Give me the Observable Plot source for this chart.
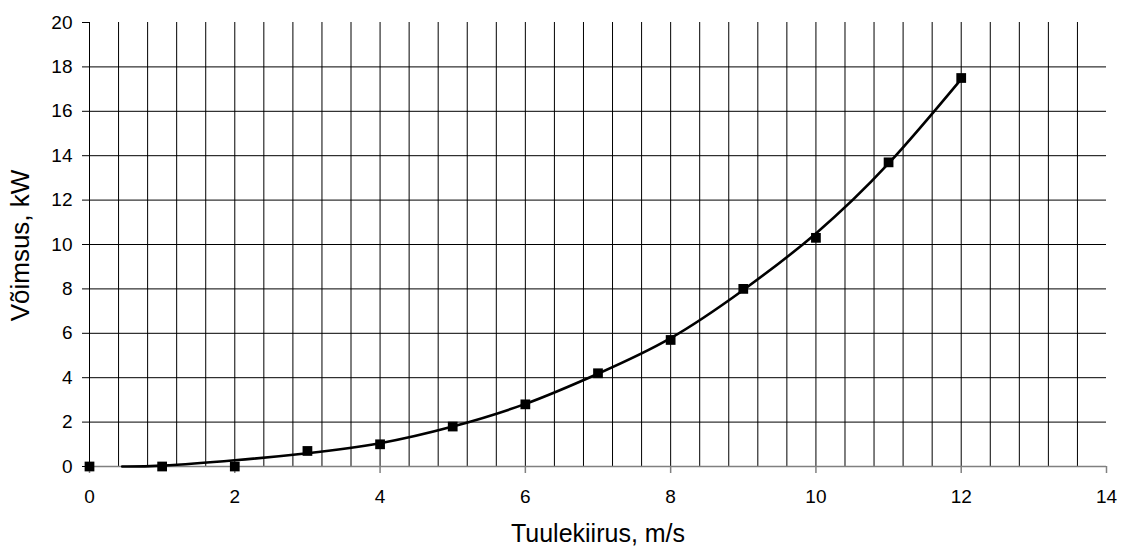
<!DOCTYPE html>
<html>
<head>
<meta charset="utf-8">
<script src="https://cdn.jsdelivr.net/npm/d3@7"></script>
<script src="https://cdn.jsdelivr.net/npm/@observablehq/plot@0.6"></script>
<style>
  html, body { margin: 0; padding: 0; background: #fff; }
  #chart svg { display: block; }
</style>
</head>
<body>
<div id="chart"></div>
<script>
// Measured points (wind speed m/s, power kW)
const speed = [0, 1, 2, 3, 4, 5, 6, 7, 8, 9, 10, 11, 12];
const power = [0, 0, 0, 0.7, 1.0, 1.8, 2.8, 4.2, 5.7, 8.0, 10.3, 13.7, 17.5];

// Trend line
const trendX = [0.45, 1, 2, 3, 4, 5, 6, 7, 8, 9, 10, 11, 12];
const trendY = [0, 0.04, 0.28, 0.6, 1.05, 1.8, 2.82, 4.18, 5.78, 7.95, 10.5, 13.65, 17.45];

// Axis ticks and grid
const xTicks = [0, 2, 4, 6, 8, 10, 12, 14];
const yTicks = [0, 2, 4, 6, 8, 10, 12, 14, 16, 18, 20];
const xGrid = d3.range(1, 35).map(i => +(i * 0.4).toFixed(1));
const yGrid = [2, 4, 6, 8, 10, 12, 14, 16, 18];

const xTitle = "Tuulekiirus, m/s";
const yTitle = "Võimsus, kW";

const points = speed.map((s, i) => ({s, p: power[i]}));
const trend = trendX.map((x, i) => ({x, y: trendY[i]}));

const chart = Plot.plot({
  width: 1123,
  height: 548,
  marginLeft: 89,
  marginRight: 17,
  marginTop: 22,
  marginBottom: 82,
  style: {fontFamily: "'Liberation Sans', Arial, sans-serif", background: "#fff", color: "#000"},
  x: {domain: [0, 14]},
  y: {domain: [0, 20]},
  marks: [
    Plot.ruleY(yGrid, {stroke: "#000", strokeWidth: 1}),
    Plot.ruleX(xGrid, {y1: 0, y2: 20, stroke: "#000", strokeWidth: 1}),
    Plot.axisX(xTicks, {tickSize: 7, tickPadding: 16, fontSize: 19, label: null, stroke: "#808080", strokeWidth: 1.5}),
    Plot.axisY(yTicks, {tickSize: 7, tickPadding: 10, fontSize: 19, label: null, stroke: "#000", strokeWidth: 1}),
    Plot.ruleY([0], {stroke: "#808080", strokeWidth: 1.5}),
    Plot.ruleX([0], {y1: 0, y2: 20, stroke: "#000", strokeWidth: 1}),
    Plot.line(trend, {x: "x", y: "y", curve: "natural", stroke: "#000", strokeWidth: 2.6}),
    Plot.dot(points, {x: "s", y: "p", symbol: "square", r: 5.5, fill: "#000", stroke: "none"}),
    Plot.text([xTitle], {frameAnchor: "bottom", dy: 67, fontSize: 25, fill: "#000", lineAnchor: "middle"}),
    Plot.text([yTitle], {frameAnchor: "left", dx: -69, dy: 1, rotate: -90, fontSize: 26, fill: "#000", lineAnchor: "middle", textAnchor: "middle"})
  ]
});
document.getElementById("chart").appendChild(chart);
</script>
</body>
</html>
